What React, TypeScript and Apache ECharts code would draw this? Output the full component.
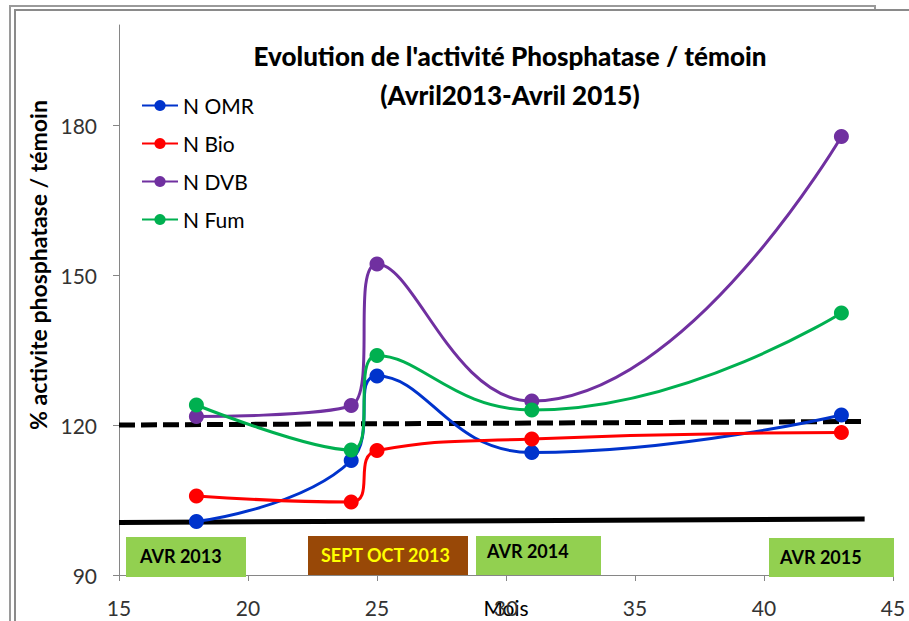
import React, { useEffect, useRef } from "react";
import * as echarts from "echarts";

const months = [18, 24, 25, 31, 43];
const nOMR = [100.7, 112.9, 129.8, 114.5, 122.0];
const nBio = [105.8, 104.6, 114.9, 117.2, 118.5];
const nDVB = [121.7, 123.9, 152.2, 124.8, 177.7];
const nFum = [124.0, 115.0, 133.9, 123.0, 142.4];

const refDashed = [[15, 120.0], [43.9, 120.7]];
const refSolid = [[15, 100.5], [43.9, 101.2]];

const xTicks = [15, 20, 25, 30, 35, 40, 45];
const yTicks = [90, 120, 150, 180];

const seriesNames = ["N OMR", "N Bio", "N DVB", "N Fum"];
const seriesColors = ["#0033CC", "#FF0000", "#7030A0", "#00B050"];
const seriesValues = [nOMR, nBio, nDVB, nFum];

const periodLabels = ["AVR 2013", "SEPT OCT 2013", "AVR 2014", "AVR 2015"];

const FONT = "Lato, 'Open Sans', sans-serif";

export default function App() {
  const ref = useRef<HTMLDivElement>(null);
  useEffect(() => {
    if (!ref.current) return;
    const chart = echarts.init(ref.current, null, { renderer: "svg" });
    const pts = (vals: number[]) => months.map((m, i) => [m, vals[i]]);
    const boxes = [
      { x: 126, y: 537, w: 120, h: 40, fill: "#92D050", color: "#000", pad: 14, ty: 556 },
      { x: 308, y: 536, w: 160, h: 39, fill: "#984807", color: "#FFFF00", pad: 13, ty: 555 },
      { x: 476, y: 536, w: 125, h: 39, fill: "#92D050", color: "#000", pad: 11, ty: 551 },
      { x: 769, y: 538, w: 125, h: 39, fill: "#92D050", color: "#000", pad: 11, ty: 557 },
    ];
    const graphics: any[] = [];
    boxes.forEach((b, i) => {
      graphics.push({
        type: "rect",
        z: 100,
        shape: { x: b.x, y: b.y, width: b.w, height: b.h },
        style: { fill: b.fill },
      });
      graphics.push({
        type: "text",
        z: 101,
        x: b.x + b.pad,
        y: b.ty,
        style: {
          text: periodLabels[i],
          fill: b.color,
          font: `bold 18px ${FONT}`,
          textAlign: "left",
          textVerticalAlign: "middle",
        },
      });
    });
    graphics.push({
      type: "polyline",
      z: 50,
      shape: { points: [[10, 621], [10, 6], [875, 6], [875, 9]] },
      style: { stroke: "#9a9a9a", lineWidth: 2, fill: "none" },
    });
    graphics.push({
      type: "polyline",
      z: 50,
      shape: { points: [[15, 621], [15, 10], [909, 10]] },
      style: { stroke: "#8a8a8a", lineWidth: 2, fill: "none" },
    });
    graphics.push({
      type: "text",
      z: 60,
      x: 38,
      y: 265,
      rotation: Math.PI / 2,
      style: {
        text: "% activite phosphatase / témoin",
        fill: "#000",
        font: `bold 23px ${FONT}`,
        textAlign: "center",
        textVerticalAlign: "middle",
      },
    });

    const option: any = {
      animation: false,
      backgroundColor: "#fff",
      title: {
        text: "Evolution de l'activité Phosphatase / témoin\n(Avril2013-Avril 2015)",
        left: 505,
        top: 31,
        textAlign: "center",
        textStyle: {
          fontFamily: FONT,
          fontWeight: 900,
          fontSize: 26,
          lineHeight: 39,
          color: "#000",
        },
      },
      legend: {
        orient: "vertical",
        left: 136,
        top: 90,
        itemWidth: 36,
        itemHeight: 14,
        itemGap: 17,
        data: seriesNames,
        textStyle: { fontFamily: FONT, fontSize: 21, color: "#000" },
      },
      grid: { left: 119, right: 16, top: 25, bottom: 46, containLabel: false, outerBoundsMode: "none" },
      xAxis: {
        type: "value",
        min: 15,
        max: 45,
        interval: 5,
        name: "Mois",
        nameLocation: "middle",
        nameGap: 22,
        nameMoveOverlap: false,
        nameTextStyle: { fontFamily: FONT, fontSize: 21, color: "#000", verticalAlign: "top" },
        axisLine: { lineStyle: { color: "#868686", width: 1 } },
        axisTick: { show: true, length: 6, lineStyle: { color: "#868686" }, customValues: xTicks },
        axisLabel: {
          fontFamily: FONT,
          fontSize: 21,
          color: "#333",
          margin: 22,
          customValues: xTicks,
        },
        splitLine: { show: false },
      },
      yAxis: {
        type: "value",
        min: 90,
        max: 200,
        interval: 30,
        axisLine: { show: true, lineStyle: { color: "#868686", width: 1 } },
        axisTick: { show: true, length: 6, lineStyle: { color: "#868686" }, customValues: yTicks },
        axisLabel: {
          fontFamily: FONT,
          fontSize: 21,
          color: "#333",
          margin: 22,
          customValues: yTicks,
        },
        splitLine: { show: false },
      },
      series: [
        {
          name: "refDashed",
          type: "line",
          data: refDashed,
          symbol: "none",
          silent: true,
          lineStyle: { color: "#000", width: 5, type: [16, 6] },
          z: 1,
        },
        {
          name: "refSolid",
          type: "line",
          data: refSolid,
          symbol: "none",
          silent: true,
          lineStyle: { color: "#000", width: 5 },
          z: 1,
        },
        ...seriesNames.map((n, i) => ({
          name: n,
          type: "line",
          data: pts(seriesValues[i]),
          smooth: 0.5,
          symbol: "circle",
          symbolSize: 15,
          color: seriesColors[i],
          itemStyle: { color: seriesColors[i] },
          lineStyle: { color: seriesColors[i], width: 3 },
          z: 3,
        })),
      ],
      graphic: graphics,
    };
    chart.setOption(option);
    return () => chart.dispose();
  }, []);
  return (
    <div
      ref={ref}
      style={{ position: "absolute", left: 0, top: 0, width: 909, height: 621 }}
    />
  );
}
